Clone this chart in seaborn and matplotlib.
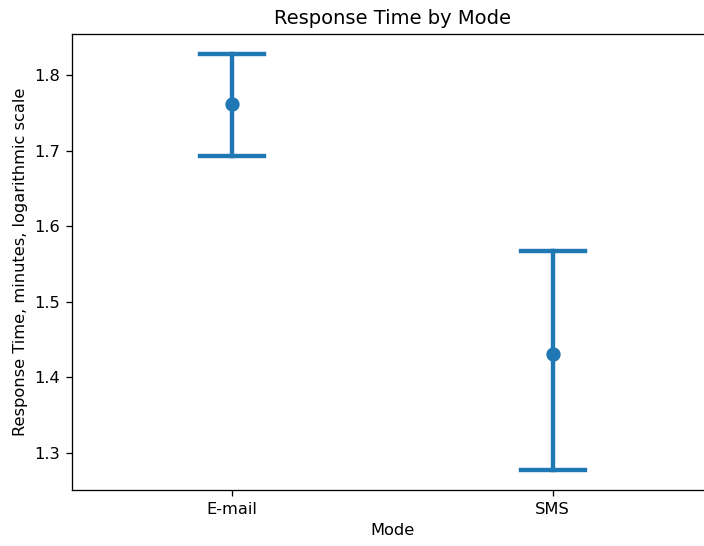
import numpy as np
import pandas as pd
import matplotlib
matplotlib.use("Agg")
import matplotlib.pyplot as plt
import seaborn as sns

modes = ["E-mail", "SMS"]
means = [1.761, 1.4305]
ci_low = [1.6926, 1.2775]
ci_high = [1.8275, 1.5666]

# Build a long table whose mean equals the estimate and whose min/max equal the CI bounds
rows = []
for m, mu, lo, hi in zip(modes, means, ci_low, ci_high):
    mid = 3 * mu - lo - hi
    for v in (lo, mid, hi):
        rows.append({"Mode": m, "Response": v})
df = pd.DataFrame(rows)

DPI = 117
fig = plt.figure(figsize=(704 / DPI, 546 / DPI), dpi=DPI)
ax = fig.add_axes([71.7 / 704, 1 - 490.3 / 546, (713 - 71.7) / 704, (490.3 - 33.5) / 546])
sns.pointplot(data=df, x="Mode", y="Response", order=modes, estimator="mean",
              errorbar=("pi", 100), capsize=0.2, linestyle="none", ax=ax)
ax.set_xlim(-0.5, 1.5)
ax.spines["right"].set_visible(False)
ax.set_title("Response Time by Mode")
ax.set_xlabel("Mode")
ax.set_ylabel("Response Time, minutes, logarithmic scale")
fig.savefig("out.png", dpi=DPI)
